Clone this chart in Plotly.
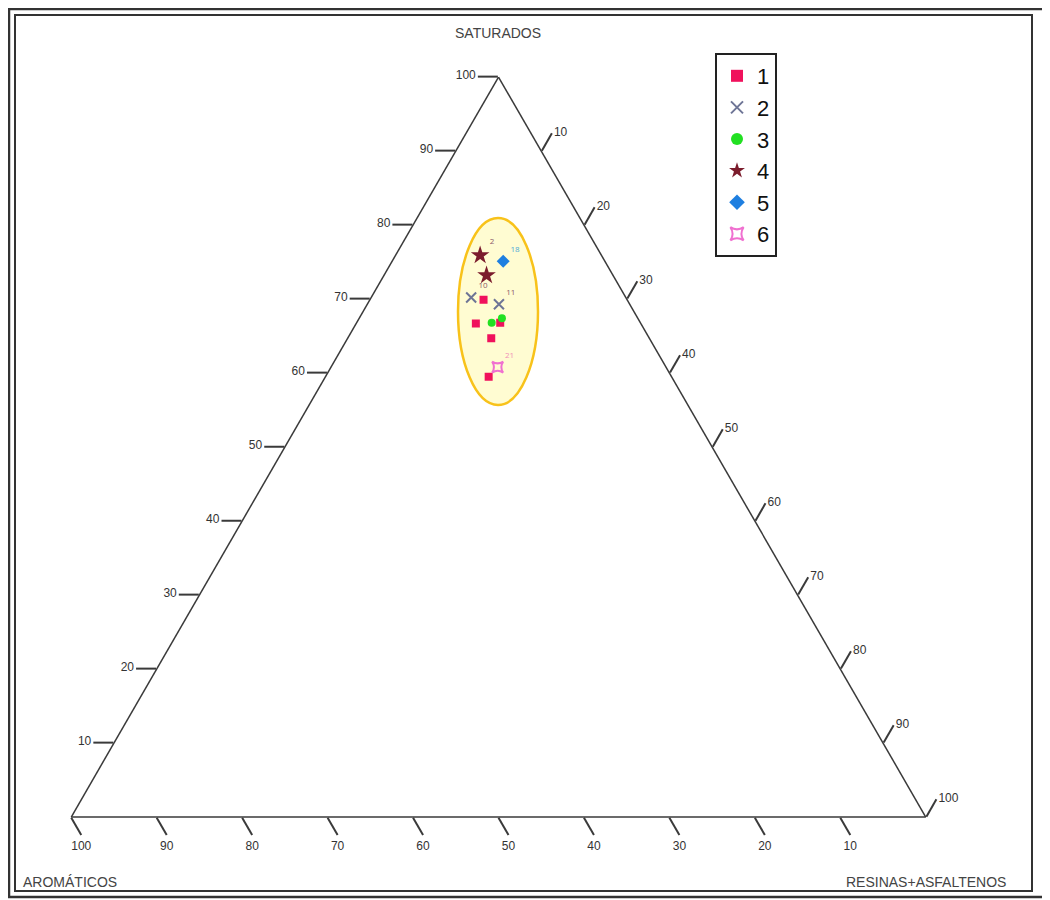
import plotly.graph_objects as go

# ---- data (percent): Saturados, Aromáticos, Resinas+Asfaltenos ----
s1_sat = [69.9, 66.7, 66.8, 64.7, 59.5]
s1_aro = [16.8, 19.3, 16.4, 18.5, 21.4]
s1_res = [13.3, 14.0, 16.8, 16.8, 19.1]

s2_sat = [70.2, 69.3]
s2_aro = [18.1, 15.3]
s2_res = [11.7, 15.4]
s2_lbl = ["10", "11"]

s3_sat = [66.8, 67.4]
s3_aro = [17.4, 15.9]
s3_res = [15.8, 16.7]

s4_sat = [75.9, 73.2]
s4_aro = [14.2, 14.8]
s4_res = [9.9, 12.0]
s4_lbl = ["2", ""]

s5_sat = [75.1]
s5_aro = [11.9]
s5_res = [13.0]
s5_lbl = ["18"]

s6_sat = [60.8]
s6_aro = [19.7]
s6_res = [19.5]
s6_lbl = ["21"]

tick_values = [10, 20, 30, 40, 50, 60, 70, 80, 90, 100]

series = [
    ("1", s1_sat, s1_aro, s1_res, None, dict(symbol="square", color="#f0115c", size=8)),
    ("2", s2_sat, s2_aro, s2_res, s2_lbl, dict(symbol="x-thin-open", color="#6e7596", size=10, line=dict(width=2, color="#6e7596"))),
    ("3", s3_sat, s3_aro, s3_res, None, dict(symbol="circle", color="#22e022", size=8)),
    ("4", s4_sat, s4_aro, s4_res, s4_lbl, dict(symbol="star", color="#7b1c2c", size=14)),
    ("5", s5_sat, s5_aro, s5_res, s5_lbl, dict(symbol="diamond", color="#1e7fe0", size=10)),
    ("6", s6_sat, s6_aro, s6_res, s6_lbl, dict(symbol="star-square-open", color="#f070d0", size=10, line=dict(width=2, color="#f070d0"))),
]

label_colors = {"2": "#8a5a6a", "4": "#8a5a6a", "5": "#4aa8d8", "6": "#f090b8"}

fig = go.Figure()
for name, a, b, c, lbl, mk in series:
    fig.add_trace(go.Scatterternary(
        a=a, b=b, c=c, name=name,
        mode="markers+text" if lbl else "markers",
        text=lbl, textposition="top right",
        textfont=dict(size=8, color=label_colors.get(name, "#666")),
        marker=mk,
    ))

# page body has an 8px margin: size figure so it ends at the window edge
OFF = 8
W, H = 1050 - OFF, 900 - OFF


def px(x):
    return (x - OFF) / W


def py(y):
    return 1 - (y - OFF) / H


axis_common = dict(
    title=dict(text=""),
    linecolor="#3a3a3a", linewidth=1.5, showgrid=False,
    ticks="outside", ticklen=20, tickcolor="#3a3a3a", tickwidth=1.5,
    tickmode="array", tickvals=tick_values, min=0,
    tickfont=dict(family="Liberation Sans, Arial, sans-serif", size=12, color="#333"),
)

fig.update_layout(
    width=W, height=H,
    margin=dict(l=0, r=0, t=0, b=0),
    paper_bgcolor="white",
    showlegend=True,
    ternary=dict(
        sum=100,
        bgcolor="rgba(0,0,0,0)",
        domain=dict(x=[px(71), px(926)], y=[py(817), py(77)]),
        aaxis=dict(axis_common),
        baxis=dict(axis_common),
        caxis=dict(axis_common),
    ),
    legend=dict(
        x=px(715), y=py(53), xanchor="left", yanchor="top",
        bordercolor="#222", borderwidth=2, bgcolor="white",
        font=dict(family="Liberation Sans, Arial, sans-serif", size=22, color="#111"),
        itemsizing="constant", entrywidth=42,
    ),
    shapes=[
        dict(type="circle", xref="paper", yref="paper", layer="below",
             x0=px(458), x1=px(538), y0=py(405), y1=py(218),
             fillcolor="#fffcd2", line=dict(color="#f8c21a", width=2.5)),
        dict(type="rect", xref="paper", yref="paper", layer="above",
             x0=px(9), x1=px(1045), y0=py(897), y1=py(9),
             line=dict(color="#333", width=2.5)),
        dict(type="rect", xref="paper", yref="paper", layer="above",
             x0=px(15), x1=px(1032), y0=py(891), y1=py(15),
             line=dict(color="#333", width=2)),
    ],
    annotations=[
        dict(text="SATURADOS", x=px(498), y=py(33), xref="paper", yref="paper",
             xanchor="center", yanchor="middle", showarrow=False,
             font=dict(family="Liberation Sans Narrow, Arial Narrow, sans-serif", size=14, color="#444")),
        dict(text="AROMÁTICOS", x=px(70), y=py(882), xref="paper", yref="paper",
             xanchor="center", yanchor="middle", showarrow=False,
             font=dict(family="Liberation Sans, Arial, sans-serif", size=14, color="#444")),
        dict(text="RESINAS+ASFALTENOS", x=px(926), y=py(882), xref="paper", yref="paper",
             xanchor="center", yanchor="middle", showarrow=False,
             font=dict(family="Liberation Sans, Arial, sans-serif", size=14, color="#444")),
    ],
)

fig.write_html("out.html")
